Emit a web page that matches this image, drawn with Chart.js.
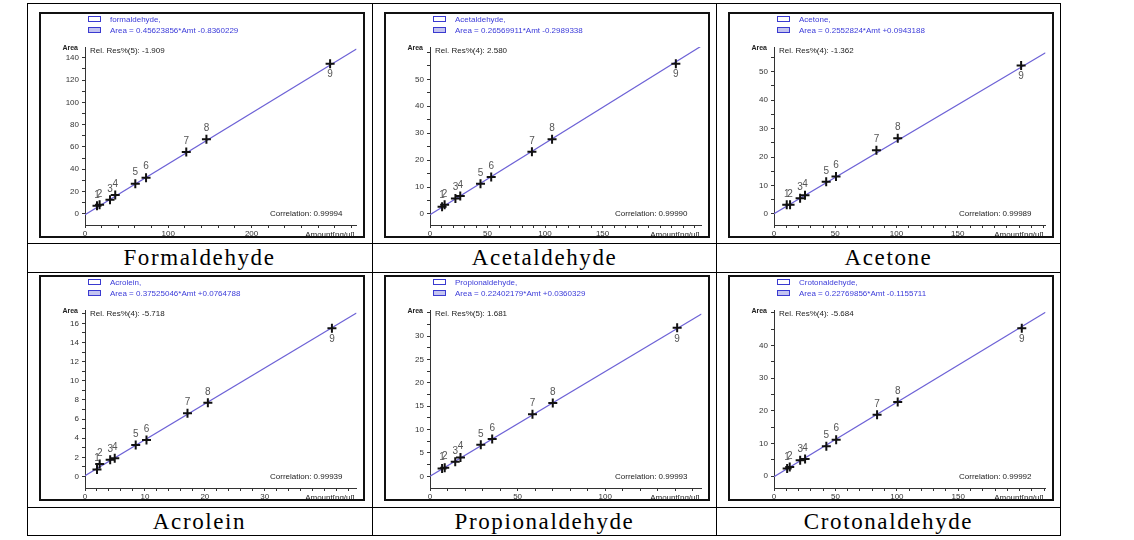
<!DOCTYPE html>
<html><head><meta charset="utf-8">
<script src="https://cdn.jsdelivr.net/npm/chart.js@4"></script>
<style>
html,body{margin:0;padding:0;background:#fff;width:1134px;height:540px;overflow:hidden;}
#wrap{position:relative;width:1134px;height:540px;}
.hl{position:absolute;height:1px;background:#000;}
.vl{position:absolute;width:1px;background:#000;}
.frame{position:absolute;border:2px solid #111;box-sizing:border-box;background:#fff;width:326px;height:226px;}
.frame canvas{display:block;}
.cap{position:absolute;display:flex;align-items:center;justify-content:center;font-family:"Liberation Serif","Times New Roman",serif;font-size:23px;letter-spacing:1.6px;color:#000;width:344px;}
</style></head>
<body><div id="wrap"></div>
<script>
// ---------- data ----------
const compounds = ["Formaldehyde","Acetaldehyde","Acetone","Acrolein","Propionaldehyde","Crotonaldehyde"];
const legendNames = ["formaldehyde,","Acetaldehyde,","Acetone,","Acrolein,","Propionaldehyde,","Crotonaldehyde,"];
const equations = [
  "Area = 0.45623856*Amt -0.8360229",
  "Area = 0.26569911*Amt -0.2989338",
  "Area = 0.2552824*Amt +0.0943188",
  "Area = 0.37525046*Amt +0.0764788",
  "Area = 0.22402179*Amt +0.0360329",
  "Area = 0.22769856*Amt -0.1155711"
];
const relRes = ["Rel. Res%(5): -1.909","Rel. Res%(4): 2.580","Rel. Res%(4): -1.362","Rel. Res%(4): -5.718","Rel. Res%(5): 1.681","Rel. Res%(4): -5.684"];
const correlations = ["Correlation: 0.99994","Correlation: 0.99990","Correlation: 0.99989","Correlation: 0.99939","Correlation: 0.99993","Correlation: 0.99992"];
const levelLabels = ["1","2","3","4","5","6","7","8","9"];

const amountFormaldehyde = [14.4,17.5,30.0,36.3,60.4,73.3,121.6,145.8,294.3];
const areaFormaldehyde   = [7.2,8.1,12.6,16.8,27.0,32.4,55.5,66.8,134.6];
const amountAcetaldehyde = [10.5,12.7,22.1,26.3,43.9,53.2,88.6,106.1,213.7];
const areaAcetaldehyde   = [2.7,3.4,5.7,6.7,11.2,13.7,23.1,27.7,55.8];
const amountAcetone      = [10.4,13.1,21.3,25.3,42.6,50.6,83.6,101.0,201.7];
const areaAcetone        = [3.2,3.2,5.5,6.6,11.3,13.2,22.4,26.6,52.2];
const amountAcrolein     = [2.0,2.45,4.2,4.96,8.46,10.26,17.1,20.5,41.2];
const areaAcrolein       = [0.73,1.32,1.74,1.91,3.3,3.82,6.6,7.7,15.5];
const amountPropionaldehyde = [6.9,8.4,14.4,17.4,29.0,35.5,58.5,70.1,141.1];
const areaPropionaldehyde   = [1.7,1.85,3.1,4.05,6.75,8.0,13.3,15.7,31.8];
const amountCrotonaldehyde  = [10.7,12.8,21.3,25.3,42.6,50.6,83.9,100.7,201.7];
const areaCrotonaldehyde    = [2.4,2.85,4.9,5.3,9.2,11.2,18.8,22.7,45.3];

// calibration line end points (Amount, Area)
const fitAmount = [[0,326],[0,236],[0,221.6],[0,45.3],[0,155],[0,221]];
const fitArea   = [[-0.84,147.9],[-0.30,62.4],[0.09,56.7],[0.08,17.08],[0.04,34.76],[-0.12,50.2]];

const xMax = [326,236,221.6,45.3,155,221];
const yMin = [-10,-4.1,-3.9,-1.2,-2.5,-3.6];
const yMax = [149.6,62,58.7,17.4,35.6,50.9];
const xTickLabels = [[0,100,200],[0,50,100,150],[0,50,100,150],[0,10,20,30],[0,50,100],[0,50,100,150]];
const yTickLabels = [[0,20,40,60,80,100,120,140],[0,10,20,30,40,50],[0,10,20,30,40,50],[0,2,4,6,8,10,12,14,16],[0,5,10,15,20,25,30],[0,10,20,30,40]];
const xMinorStep = [20,10,10,2,10,10];
const yMinorStep = [10,5,5,1,2.5,5];

const amounts = [amountFormaldehyde,amountAcetaldehyde,amountAcetone,amountAcrolein,amountPropionaldehyde,amountCrotonaldehyde];
const areas   = [areaFormaldehyde,areaAcetaldehyde,areaAcetone,areaAcrolein,areaPropionaldehyde,areaCrotonaldehyde];

// ---------- layout ----------
const wrap = document.getElementById('wrap');
function el(cls, st, txt){ const d=document.createElement('div'); d.className=cls; Object.assign(d.style, st); if(txt) d.textContent=txt; wrap.appendChild(d); return d; }
[3,243,272,507,535].forEach(y=>el('hl',{left:'27px',top:y+'px',width:'1034px'}));
[27,372,716,1060].forEach(x=>el('vl',{left:x+'px',top:'3px',height:'533px'}));
const colLeft=[27,372,716], frameLeft=[39,384,728], frameTop=[12,275], capTop=[244,508], capH=[28,27];

const SANS='"Liberation Sans", Arial, sans-serif';
const txtPlugin = {
  id:'txt',
  afterDatasetsDraw(chart){
    const i = chart.options.plugins.txt.idx;
    const ctx = chart.ctx, ca = chart.chartArea, xs = chart.scales.x, ys = chart.scales.y;
    ctx.save();
    ctx.lineWidth = 1; ctx.strokeStyle = '#3a3ad0';
    ctx.fillStyle = '#fff'; ctx.fillRect(ca.left+3.5,2.5,12,5); ctx.strokeRect(ca.left+3.5,2.5,12,5);
    ctx.fillStyle = '#c4c4f0'; ctx.fillRect(ca.left+3.5,13.5,12,5); ctx.strokeRect(ca.left+3.5,13.5,12,5);
    ctx.font = '8px '+SANS; ctx.fillStyle = '#3b3bd9'; ctx.textBaseline='middle'; ctx.textAlign='left';
    ctx.fillText(legendNames[i], ca.left+25, 5.5);
    ctx.fillText(equations[i], ca.left+25, 16.5);
    ctx.fillStyle = '#222';
    ctx.font = 'bold 7px '+SANS; ctx.textAlign='right';
    ctx.fillText('Area', ca.left-7, ca.top+1);
    ctx.font = '8px '+SANS; ctx.textAlign='left';
    ctx.fillText(relRes[i], ca.left+5, ca.top+4);
    ctx.textAlign='right';
    ctx.fillText(correlations[i], ca.right-14, ca.bottom-11);
    ctx.fillText('Amount[ng/ul]', ca.right-2, ca.bottom+9.5);
    ctx.font = '10px '+SANS; ctx.fillStyle = '#555'; ctx.textAlign='center';
    amounts[i].forEach((a,k)=>{
      const px = xs.getPixelForValue(a), py = ys.getPixelForValue(areas[i][k]);
      ctx.fillText(levelLabels[k], px, py + (k===8 ? 11 : -11));
    });
    ctx.restore();
  }
};

function makeTicks(max, step){ const t=[]; for(let k=0;;k++){ const v=Math.round(k*step*1000)/1000; if(v>max+1e-9) break; t.push({value:v}); } return t; }

for(let i=0;i<6;i++){
  const r = Math.floor(i/3), c = i%3;
  const f = el('frame',{left:frameLeft[c]+'px',top:frameTop[r]+'px'});
  const cv = document.createElement('canvas'); cv.width=322; cv.height=222; cv.style.width='322px'; cv.style.height='222px'; f.appendChild(cv);
  el('cap',{left:(colLeft[c]+1)+'px',top:capTop[r]+'px',height:capH[r]+'px',width:'343px'}, compounds[i]);

  new Chart(cv.getContext('2d'),{
    type:'scatter',
    data:{datasets:[
      {data:amounts[i].map((a,k)=>({x:a,y:areas[i][k]})), pointStyle:'cross', pointRadius:4.5, pointBorderWidth:2, borderColor:'#111', backgroundColor:'#111', order:0},
      {data:fitAmount[i].map((a,k)=>({x:a,y:fitArea[i][k]})), showLine:true, pointRadius:0, borderColor:'#6d62d6', borderWidth:1.2, order:1}
    ]},
    options:{
      responsive:false, animation:false, devicePixelRatio:1,
      layout:{padding:{top:33,right:0,left:0,bottom:0}},
      plugins:{legend:{display:false}, tooltip:{enabled:false}, txt:{idx:i}},
      scales:{
        x:{type:'linear', min:0, max:xMax[i],
          afterBuildTicks:s=>{s.ticks=makeTicks(xMax[i], xMinorStep[i]);},
          afterFit:s=>{s.height=11;},
          grid:{display:true, drawOnChartArea:false, tickLength:3, color:'#333'},
          border:{display:true, color:'#333', width:1},
          ticks:{autoSkip:false, maxRotation:0, padding:1, color:'#333', font:{family:SANS,size:8},
            callback:v=> xTickLabels[i].includes(v) ? String(v) : ''}
        },
        y:{type:'linear', min:yMin[i], max:yMax[i],
          afterBuildTicks:s=>{s.ticks=makeTicks(yMax[i], yMinorStep[i]);},
          afterFit:s=>{s.width=44;},
          grid:{display:true, drawOnChartArea:false, tickLength:3, color:'#333'},
          border:{display:true, color:'#333', width:1},
          ticks:{autoSkip:false, padding:3, color:'#333', font:{family:SANS,size:8},
            callback:v=> yTickLabels[i].includes(v) ? String(v) : ''}
        }
      }
    },
    plugins:[txtPlugin]
  });
}
</script>
</body></html>
